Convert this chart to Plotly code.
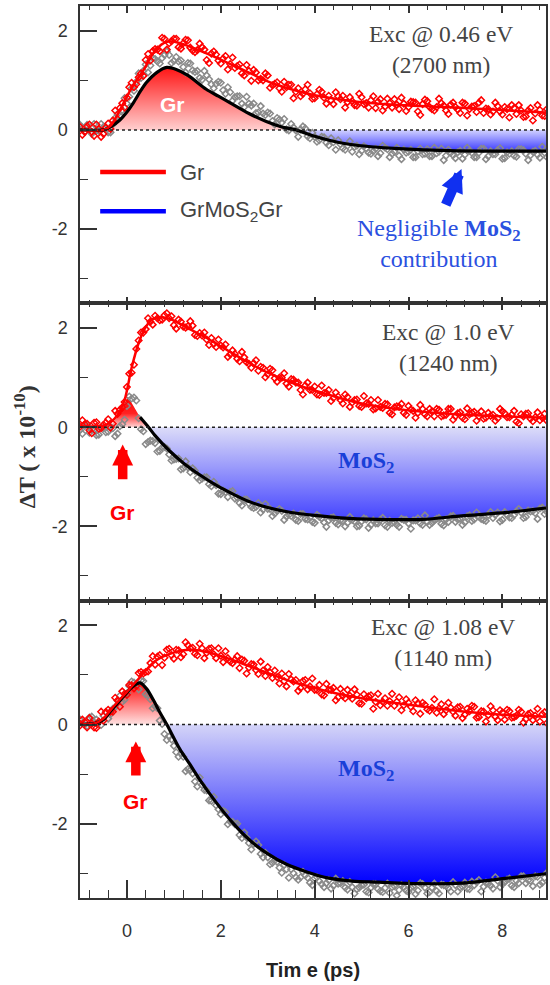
import plotly.graph_objects as go

# ---------------- data ----------------
T = [round(-1.0 + 0.1 * i, 2) for i in range(100)]      # time of first set of data points (ps)
T_MID = [round(-0.95 + 0.1 * i, 2) for i in range(100)]  # time of the interleaved second set (ps)

# Panel 1 : Exc @ 0.46 eV
R1_DATA = [0.06, -0.04, 0.11, -0.12, 0.02, -0.08, 0.13, 0.19, 0.22, 0.54,
           0.65, 0.95, 0.92, 1.14, 1.41, 1.40, 1.63, 1.59, 1.84, 1.75,
           1.84, 1.67, 1.75, 1.81, 1.60, 1.61, 1.67, 1.41, 1.54, 1.52,
           1.34, 1.49, 1.33, 1.25, 1.32, 1.10, 1.19, 1.21, 1.00, 1.00,
           1.10, 0.90, 0.96, 0.77, 0.86, 0.91, 0.77, 0.68, 0.82, 0.74,
           0.64, 0.81, 0.65, 0.69, 0.52, 0.68, 0.69, 0.56, 0.58, 0.49,
           0.66, 0.54, 0.60, 0.44, 0.62, 0.47, 0.54, 0.62, 0.42, 0.53,
           0.46, 0.56, 0.37, 0.52, 0.58, 0.42, 0.46, 0.54, 0.39, 0.51,
           0.46, 0.34, 0.53, 0.42, 0.48, 0.55, 0.34, 0.42, 0.37, 0.48,
           0.31, 0.42, 0.50, 0.32, 0.39, 0.27, 0.44, 0.33, 0.40, 0.28]
R1_DATA_MID = [-0.10, 0.07, -0.04, 0.11, -0.14, 0.05, 0.02, 0.39, 0.44, 0.45,
               0.86, 0.86, 1.06, 1.09, 1.53, 1.59, 1.62, 1.86, 1.62, 1.79,
               1.84, 1.64, 1.82, 1.66, 1.57, 1.74, 1.62, 1.35, 1.58, 1.40,
               1.44, 1.22, 1.46, 1.29, 1.14, 1.31, 0.99, 1.16, 1.03, 1.14,
               0.85, 0.93, 0.84, 0.97, 0.91, 0.64, 0.84, 0.73, 0.91, 0.63,
               0.72, 0.77, 0.53, 0.60, 0.76, 0.62, 0.45, 0.66, 0.50, 0.73,
               0.52, 0.45, 0.68, 0.57, 0.39, 0.63, 0.45, 0.51, 0.65, 0.38,
               0.57, 0.55, 0.30, 0.61, 0.46, 0.39, 0.63, 0.49, 0.32, 0.55,
               0.41, 0.55, 0.29, 0.47, 0.36, 0.60, 0.43, 0.31, 0.55, 0.37,
               0.46, 0.25, 0.44, 0.50, 0.26, 0.39, 0.19, 0.50, 0.29, 0.42]
G1_DATA = [0.10, -0.04, 0.00, 0.12, -0.02, 0.06, -0.05, 0.11, 0.32, 0.40,
           0.53, 0.84, 0.97, 1.05, 1.32, 1.30, 1.43, 1.34, 1.51, 1.51,
           1.39, 1.38, 1.27, 1.35, 1.20, 1.19, 1.01, 1.10, 0.92, 0.93,
           0.95, 0.73, 0.76, 0.66, 0.68, 0.46, 0.53, 0.53, 0.35, 0.33,
           0.35, 0.18, 0.24, 0.15, 0.01, 0.12, -0.01, 0.01, 0.03, -0.17,
           -0.14, -0.21, -0.15, -0.31, -0.25, -0.21, -0.37, -0.32, -0.44, -0.32,
           -0.42, -0.37, -0.48, -0.38, -0.47, -0.36, -0.55, -0.44, -0.52, -0.40,
           -0.44, -0.55, -0.43, -0.49, -0.39, -0.53, -0.47, -0.38, -0.52, -0.46,
           -0.57, -0.42, -0.50, -0.42, -0.55, -0.46, -0.38, -0.53, -0.49, -0.41,
           -0.58, -0.45, -0.43, -0.54, -0.39, -0.48, -0.51, -0.42, -0.56, -0.46]
G1_DATA_MID = [0.04, 0.10, -0.08, -0.01, 0.12, 0.04, -0.05, 0.24, 0.28, 0.64,
               0.67, 0.79, 1.14, 1.19, 1.16, 1.45, 1.38, 1.45, 1.58, 1.35,
               1.47, 1.40, 1.16, 1.34, 1.17, 1.05, 1.19, 1.02, 0.84, 0.97,
               0.80, 0.86, 0.59, 0.68, 0.53, 0.67, 0.49, 0.34, 0.48, 0.30,
               0.33, 0.11, 0.21, 0.22, -0.01, 0.05, -0.14, 0.07, -0.13, -0.06,
               -0.24, -0.14, -0.26, -0.17, -0.40, -0.29, -0.40, -0.23, -0.34, -0.49,
               -0.33, -0.46, -0.43, -0.53, -0.32, -0.39, -0.48, -0.36, -0.59, -0.46,
               -0.40, -0.55, -0.38, -0.48, -0.53, -0.36, -0.44, -0.61, -0.40, -0.51,
               -0.45, -0.58, -0.36, -0.46, -0.55, -0.38, -0.59, -0.43, -0.49, -0.37,
               -0.57, -0.48, -0.52, -0.39, -0.41, -0.61, -0.44, -0.50, -0.34, -0.55]
R1_FIT_X = [-1.0, -0.5, -0.35, -0.15, 0.1, 0.35, 0.6, 0.85, 1.1, 1.5, 2.0, 2.5,
            3.0, 3.5, 4.0, 4.5, 5.0, 6.0, 7.0, 8.0, 8.93]
R1_FIT_Y = [0.0, 0.0, 0.08, 0.4, 0.85, 1.2, 1.6, 1.78, 1.76, 1.62, 1.42, 1.2,
            0.98, 0.82, 0.7, 0.62, 0.56, 0.49, 0.45, 0.4, 0.35]
K1_X = [-1.0, -0.5, -0.35, -0.15, 0.0, 0.14, 0.3, 0.42, 0.64, 0.85, 1.05, 1.3,
        1.69, 1.95, 2.19, 2.6, 2.97, 3.3, 3.6, 4.0, 4.35, 4.73, 5.2, 5.79, 6.85, 8.0, 8.93]
K1_Y = [0.0, 0.0, 0.06, 0.2, 0.36, 0.55, 0.8, 0.96, 1.16, 1.26, 1.22, 1.1,
        0.82, 0.68, 0.55, 0.33, 0.17, 0.06, 0.0, -0.13, -0.22, -0.29, -0.34, -0.38, -0.42, -0.43, -0.43]

# Panel 2 : Exc @ 1.0 eV
R2_DATA = [0.01, 0.06, -0.06, 0.09, -0.03, 0.05, 0.16, 0.07, 0.27, 0.40,
           0.81, 1.10, 1.58, 1.91, 1.98, 2.13, 2.25, 2.16, 2.26, 2.20,
           2.06, 2.17, 2.03, 2.04, 2.05, 1.84, 1.85, 1.77, 1.80, 1.62,
           1.65, 1.67, 1.47, 1.48, 1.33, 1.41, 1.28, 1.29, 1.14, 1.20,
           1.07, 1.15, 0.92, 1.00, 0.88, 0.97, 0.90, 0.75, 0.84, 0.75,
           0.82, 0.65, 0.69, 0.75, 0.59, 0.62, 0.48, 0.61, 0.50, 0.56,
           0.41, 0.48, 0.55, 0.38, 0.41, 0.47, 0.29, 0.40, 0.41, 0.29,
           0.43, 0.33, 0.29, 0.37, 0.22, 0.32, 0.37, 0.22, 0.25, 0.37,
           0.22, 0.30, 0.16, 0.26, 0.31, 0.22, 0.17, 0.29, 0.25, 0.18,
           0.32, 0.20, 0.25, 0.11, 0.26, 0.27, 0.17, 0.20, 0.14, 0.27]
R2_DATA_MID = [0.14, 0.07, -0.12, 0.10, -0.02, 0.09, -0.01, 0.33, 0.35, 0.51,
               1.08, 1.26, 1.75, 1.91, 2.20, 2.07, 2.20, 2.17, 2.30, 2.24,
               1.99, 2.13, 2.01, 2.14, 1.86, 1.90, 1.91, 1.66, 1.68, 1.77,
               1.61, 1.42, 1.55, 1.38, 1.52, 1.31, 1.20, 1.35, 1.22, 1.01,
               1.18, 0.99, 1.00, 1.09, 0.82, 0.96, 0.90, 0.66, 0.90, 0.75,
               0.66, 0.84, 0.69, 0.53, 0.70, 0.55, 0.66, 0.41, 0.55, 0.43,
               0.63, 0.47, 0.36, 0.55, 0.39, 0.46, 0.26, 0.42, 0.47, 0.25,
               0.36, 0.19, 0.45, 0.26, 0.37, 0.22, 0.35, 0.24, 0.37, 0.15,
               0.28, 0.19, 0.38, 0.29, 0.13, 0.32, 0.19, 0.23, 0.13, 0.37,
               0.28, 0.20, 0.33, 0.08, 0.22, 0.28, 0.12, 0.30, 0.19, 0.13]
G2_DATA = [-0.06, 0.02, -0.11, -0.05, -0.15, -0.01, -0.09, -0.02, -0.13, 0.06,
           0.43, 0.58, 0.54, -0.04, -0.34, -0.27, -0.32, -0.48, -0.40, -0.55,
           -0.65, -0.63, -0.83, -0.81, -0.83, -1.02, -1.04, -1.01, -1.19, -1.17,
           -1.35, -1.31, -1.31, -1.44, -1.53, -1.46, -1.54, -1.63, -1.53, -1.66,
           -1.65, -1.79, -1.69, -1.69, -1.80, -1.79, -1.87, -1.75, -1.85, -1.82,
           -1.93, -1.81, -1.92, -1.88, -1.82, -1.96, -1.89, -1.93, -1.87, -2.00,
           -1.90, -1.86, -1.97, -1.94, -1.87, -1.98, -1.89, -1.92, -2.01, -1.87,
           -1.94, -1.88, -1.84, -1.97, -1.91, -1.93, -1.85, -1.95, -1.86, -1.80,
           -1.91, -1.85, -1.92, -1.78, -1.86, -1.80, -1.87, -1.77, -1.83, -1.72,
           -1.87, -1.77, -1.83, -1.70, -1.72, -1.81, -1.70, -1.73, -1.64, -1.75]
G2_DATA_MID = [-0.13, 0.05, -0.05, -0.16, 0.00, -0.10, 0.01, -0.18, 0.02, 0.15,
               0.62, 0.60, 0.18, -0.08, -0.30, -0.28, -0.49, -0.41, -0.43, -0.67,
               -0.64, -0.85, -0.69, -0.91, -0.88, -1.07, -1.01, -1.15, -1.10, -1.34,
               -1.28, -1.41, -1.29, -1.42, -1.58, -1.46, -1.61, -1.61, -1.72, -1.55,
               -1.65, -1.74, -1.65, -1.87, -1.77, -1.74, -1.89, -1.75, -1.86, -1.91,
               -1.77, -1.84, -2.01, -1.83, -1.93, -1.88, -2.00, -1.81, -1.90, -1.99,
               -1.84, -2.03, -1.88, -1.94, -1.83, -2.01, -1.93, -1.97, -1.85, -1.87,
               -2.05, -1.88, -1.94, -1.78, -1.97, -1.88, -1.83, -1.98, -1.91, -1.79,
               -1.86, -1.97, -1.80, -1.89, -1.72, -1.85, -1.89, -1.71, -1.77, -1.90,
               -1.71, -1.82, -1.77, -1.65, -1.83, -1.68, -1.69, -1.85, -1.62, -1.71]
R2_FIT_X = [-1.0, -0.5, -0.35, -0.2, -0.05, 0.1, 0.25, 0.4, 0.55, 0.75, 0.95, 1.3,
            1.7, 2.2, 2.6, 3.0, 3.5, 4.0, 4.5, 5.0, 6.0, 7.0, 8.0, 8.93]
R2_FIT_Y = [0.02, 0.03, 0.1, 0.25, 0.55, 1.2, 1.7, 2.02, 2.18, 2.22, 2.17, 2.0,
            1.8, 1.52, 1.3, 1.1, 0.9, 0.74, 0.6, 0.48, 0.34, 0.26, 0.22, 0.19]
K2_X = [-1.0, -0.42, -0.3, -0.15, 0.02, 0.15, 0.28, 0.46, 0.6, 0.9, 1.2, 1.55,
        1.9, 2.26, 2.6, 3.0, 3.5, 4.0, 4.55, 5.36, 6.3, 7.13, 8.1, 8.93]
K2_Y = [0.0, 0.0, 0.08, 0.3, 0.62, 0.4, 0.2, 0.0, -0.17, -0.47, -0.72, -0.96,
        -1.17, -1.35, -1.5, -1.62, -1.72, -1.78, -1.83, -1.86, -1.86, -1.79, -1.72, -1.63]
K2_LINE_START = 0.28   # the black fit line is only visible from here on

# Panel 3 : Exc @ 1.08 eV
R3_DATA = [-0.02, 0.05, 0.13, -0.06, 0.06, 0.08, 0.30, 0.26, 0.49, 0.67,
           0.60, 0.79, 0.78, 1.06, 1.06, 1.24, 1.21, 1.40, 1.35, 1.53,
           1.33, 1.50, 1.42, 1.60, 1.55, 1.40, 1.54, 1.45, 1.54, 1.34,
           1.39, 1.48, 1.27, 1.31, 1.14, 1.29, 1.15, 1.21, 1.02, 1.09,
           1.16, 0.94, 0.96, 1.03, 0.77, 0.91, 0.90, 0.74, 0.90, 0.77,
           0.70, 0.80, 0.59, 0.70, 0.74, 0.55, 0.58, 0.70, 0.52, 0.60,
           0.42, 0.53, 0.59, 0.46, 0.39, 0.53, 0.47, 0.38, 0.55, 0.39,
           0.44, 0.27, 0.43, 0.44, 0.31, 0.34, 0.24, 0.41, 0.29, 0.34,
           0.18, 0.36, 0.20, 0.27, 0.36, 0.15, 0.26, 0.19, 0.29, 0.09,
           0.24, 0.30, 0.14, 0.18, 0.26, 0.11, 0.23, 0.18, 0.06, 0.25]
R3_DATA_MID = [0.10, -0.06, 0.02, -0.07, 0.26, 0.25, 0.26, 0.54, 0.36, 0.62,
               0.80, 0.73, 1.04, 1.03, 1.07, 1.38, 1.37, 1.20, 1.51, 1.40,
               1.51, 1.36, 1.66, 1.54, 1.43, 1.63, 1.34, 1.53, 1.42, 1.54,
               1.26, 1.34, 1.24, 1.38, 1.31, 1.03, 1.22, 1.10, 1.27, 0.98,
               1.05, 1.09, 0.83, 0.88, 1.02, 0.87, 0.68, 0.88, 0.71, 0.93,
               0.70, 0.61, 0.82, 0.70, 0.49, 0.72, 0.53, 0.58, 0.71, 0.43,
               0.61, 0.57, 0.32, 0.62, 0.46, 0.38, 0.62, 0.46, 0.29, 0.51,
               0.36, 0.49, 0.22, 0.40, 0.28, 0.51, 0.33, 0.21, 0.44, 0.26,
               0.35, 0.13, 0.32, 0.38, 0.14, 0.27, 0.06, 0.37, 0.16, 0.29,
               0.10, 0.27, 0.15, 0.30, 0.04, 0.21, 0.09, 0.32, 0.21, 0.03]
G3_DATA = [0.10, -0.01, 0.14, 0.05, 0.05, 0.18, 0.12, 0.32, 0.48, 0.46,
           0.63, 0.87, 0.81, 0.89, 0.61, 0.51, 0.37, 0.08, -0.19, -0.24,
           -0.43, -0.65, -0.65, -0.90, -0.99, -1.25, -1.22, -1.33, -1.54, -1.63,
           -1.81, -1.77, -1.96, -2.01, -2.23, -2.18, -2.39, -2.41, -2.43, -2.68,
           -2.68, -2.79, -2.77, -2.99, -2.92, -2.92, -3.08, -3.08, -3.04, -3.19,
           -3.10, -3.16, -3.28, -3.14, -3.25, -3.21, -3.16, -3.33, -3.28, -3.32,
           -3.24, -3.37, -3.29, -3.22, -3.36, -3.30, -3.40, -3.26, -3.34, -3.28,
           -3.38, -3.27, -3.35, -3.22, -3.41, -3.29, -3.36, -3.23, -3.26, -3.37,
           -3.24, -3.29, -3.19, -3.32, -3.24, -3.14, -3.27, -3.21, -3.31, -3.15,
           -3.22, -3.13, -3.25, -3.15, -3.06, -3.20, -3.15, -3.06, -3.23, -3.09]
G3_DATA_MID = [0.03, -0.03, 0.16, 0.10, -0.01, 0.25, 0.21, 0.35, 0.58, 0.50,
               0.78, 0.85, 0.71, 0.88, 0.59, 0.33, 0.33, 0.01, -0.31, -0.30,
               -0.56, -0.59, -0.94, -0.92, -1.15, -1.07, -1.32, -1.53, -1.46, -1.71,
               -1.74, -2.01, -1.96, -2.00, -2.29, -2.28, -2.52, -2.36, -2.61, -2.59,
               -2.82, -2.74, -2.89, -2.83, -3.09, -3.00, -3.13, -2.97, -3.09, -3.24,
               -3.08, -3.22, -3.20, -3.31, -3.11, -3.20, -3.29, -3.18, -3.41, -3.29,
               -3.23, -3.39, -3.22, -3.32, -3.38, -3.21, -3.28, -3.45, -3.24, -3.35,
               -3.29, -3.42, -3.20, -3.29, -3.38, -3.21, -3.41, -3.24, -3.30, -3.18,
               -3.37, -3.27, -3.31, -3.17, -3.18, -3.37, -3.19, -3.25, -3.08, -3.28,
               -3.18, -3.11, -3.28, -3.20, -3.06, -3.14, -3.26, -3.07, -3.19, -2.99]
R3_FIT_X = [-1.0, -0.7, -0.5, -0.3, 0.0, 0.3, 0.6, 0.9, 1.2, 1.5, 1.8, 2.2,
            2.6, 3.0, 3.5, 4.0, 4.5, 5.0, 6.0, 7.0, 8.0, 8.93]
R3_FIT_Y = [0.0, 0.02, 0.12, 0.35, 0.66, 0.98, 1.28, 1.42, 1.5, 1.5, 1.44, 1.32,
            1.18, 1.04, 0.87, 0.74, 0.62, 0.53, 0.4, 0.28, 0.2, 0.16]
K3_X = [-1.0, -0.7, -0.5, -0.35, -0.07, 0.1, 0.28, 0.42, 0.56, 0.7, 0.85, 1.13,
        1.34, 1.55, 1.9, 2.26, 2.6, 2.97, 3.4, 3.85, 4.3, 4.8, 5.36, 6.2, 7.13, 8.1, 8.93]
K3_Y = [0.0, 0.02, 0.1, 0.27, 0.57, 0.75, 0.84, 0.72, 0.5, 0.25, 0.0, -0.5,
        -0.8, -1.11, -1.57, -1.99, -2.32, -2.59, -2.82, -2.98, -3.1, -3.16, -3.18, -3.21, -3.2, -3.1, -3.01]

X_RANGE = [-1.0, 8.93]
Y_RANGE = [-3.5, 2.5]
Y_TICKS = [-2, 0, 2]
Y_TICK_LABELS = ["-2", "0", "2"]
EXC_LABELS = ["Exc @ 0.46 eV<br>(2700 nm)", "Exc @ 1.0 eV<br>(1240 nm)", "Exc @ 1.08 eV<br>(1140 nm)"]
X_TITLE = "Tim e (ps)"
Y_TITLE = "ΔT ( x 10<sup>-10</sup>)"

# ---------------- styling ----------------
SERIF = "Liberation Serif"
SANS = "Liberation Sans"
AX = "#333333"
RED = "#ff0000"
BLUE = "#0000ff"

panels = [
    dict(R=R1_DATA, RM=R1_DATA_MID, G=G1_DATA, GM=G1_DATA_MID, RX=R1_FIT_X, RY=R1_FIT_Y,
         KX=K1_X, KY=K1_Y, kstart=-1.0,
         red=[[0, "#ffcfcf"], [1, "#ff1414"]],
         blue=[[0, "#3c3cff"], [1, "#d2d2ff"]], pos_shape="spline"),
    dict(R=R2_DATA, RM=R2_DATA_MID, G=G2_DATA, GM=G2_DATA_MID, RX=R2_FIT_X, RY=R2_FIT_Y,
         KX=K2_X, KY=K2_Y, kstart=K2_LINE_START,
         red=[[0, "#ffd6d6"], [0.45, "#ff2222"], [1, "#ff0000"]],
         blue=[[0, "#4444ff"], [1, "#dcdcf8"]], pos_shape="linear"),
    dict(R=R3_DATA, RM=R3_DATA_MID, G=G3_DATA, GM=G3_DATA_MID, RX=R3_FIT_X, RY=R3_FIT_Y,
         KX=K3_X, KY=K3_Y, kstart=-1.0,
         red=[[0, "#ffe2e2"], [1, "#ff1010"]],
         blue=[[0, "#0000ff"], [1, "#d4d4f8"]], pos_shape="spline"),
]

fig = go.Figure()
for i, p in enumerate(panels, start=1):
    xa = "x" if i == 1 else f"x{i}"
    ya = "y" if i == 1 else f"y{i}"
    pos = [max(v, 0.0) for v in p["KY"]]
    neg = [min(v, 0.0) for v in p["KY"]]
    fig.add_trace(go.Scatter(x=p["KX"], y=pos, xaxis=xa, yaxis=ya, mode="lines",
                             line=dict(width=0, shape=p["pos_shape"], smoothing=0.8),
                             fill="tozeroy",
                             fillgradient=dict(type="vertical", start=0, stop=max(pos),
                                               colorscale=p["red"]),
                             hoverinfo="skip"))
    fig.add_trace(go.Scatter(x=p["KX"], y=neg, xaxis=xa, yaxis=ya, mode="lines",
                             line=dict(width=0, shape="spline", smoothing=0.8),
                             fill="tozeroy",
                             fillgradient=dict(type="vertical", start=min(neg), stop=0,
                                               colorscale=p["blue"]),
                             hoverinfo="skip"))
    for tx, vals in ((T, p["G"]), (T_MID, p["GM"])):
        fig.add_trace(go.Scatter(x=tx, y=vals, xaxis=xa, yaxis=ya, mode="markers",
                                 marker=dict(symbol="diamond-open", size=5, color="#8a8a8a",
                                             line=dict(width=1.5))))
    for tx, vals in ((T, p["R"]), (T_MID, p["RM"])):
        fig.add_trace(go.Scatter(x=tx, y=vals, xaxis=xa, yaxis=ya, mode="markers",
                                 marker=dict(symbol="diamond-open", size=5, color=RED,
                                             line=dict(width=1.5))))
    kx = [x for x in p["KX"] if x >= p["kstart"]]
    ky = [y for x, y in zip(p["KX"], p["KY"]) if x >= p["kstart"]]
    fig.add_trace(go.Scatter(x=kx, y=ky, xaxis=xa, yaxis=ya, mode="lines",
                             line=dict(color="black", width=3.2, shape="spline", smoothing=0.8)))
    fig.add_trace(go.Scatter(x=p["RX"], y=p["RY"], xaxis=xa, yaxis=ya, mode="lines",
                             line=dict(color=RED, width=2.5, shape="spline", smoothing=0.8)))

# helper trace so the top tick axis of the lowest panel is drawn
fig.add_trace(go.Scatter(x=K3_X, y=K3_Y, xaxis="x4", yaxis="y3", mode="lines",
                         line=dict(width=0), hoverinfo="skip"))

xcommon = dict(range=X_RANGE, tickmode="linear", tick0=0, dtick=2, showline=True,
               linecolor=AX, linewidth=1.5, showgrid=False, zeroline=False,
               ticks="inside", tickcolor=AX, tickwidth=1.5)
minor_x_short = dict(tickmode="linear", tick0=0, dtick=0.4, ticklen=4, ticks="inside",
                     tickcolor=AX, tickwidth=1.2)
ycommon = dict(range=Y_RANGE, tickmode="array", tickvals=Y_TICKS, ticktext=Y_TICK_LABELS,
               showline=True, mirror=True, linecolor=AX, linewidth=1.5, showgrid=False,
               zeroline=False, ticks="inside", ticklen=17, tickcolor=AX, tickwidth=1.5,
               tickfont=dict(family=SANS, size=18, color=AX), ticklabelstandoff=7,
               minor=dict(tickmode="linear", tick0=1, dtick=2, ticklen=8, ticks="inside",
                          tickcolor=AX, tickwidth=1.2))

fig.update_layout(
    width=550, height=985, margin=dict(l=80, r=2, t=6, b=87),
    plot_bgcolor="white", paper_bgcolor="white", showlegend=False,
    xaxis=dict(xcommon, anchor="y", mirror="ticks", ticklen=7, showticklabels=False,
               minor=minor_x_short),
    xaxis2=dict(xcommon, anchor="y2", mirror="ticks", ticklen=7, showticklabels=False,
                minor=minor_x_short),
    xaxis3=dict(xcommon, anchor="y3", mirror=True, ticklen=18, showticklabels=True,
                tickfont=dict(family=SANS, size=18, color=AX), ticklabelstandoff=16,
                minor=dict(tickmode="linear", tick0=0, dtick=0.4, ticklen=8, ticks="inside",
                           tickcolor=AX, tickwidth=1.2)),
    xaxis4=dict(range=X_RANGE, overlaying="x3", anchor="y3", side="top", showline=False,
                showgrid=False, zeroline=False, tickmode="linear", tick0=0, dtick=2,
                ticks="inside", ticklen=7, tickcolor=AX, tickwidth=1.5, showticklabels=False,
                minor=minor_x_short),
    yaxis=dict(ycommon, anchor="x", domain=[2 / 3, 1]),
    yaxis2=dict(ycommon, anchor="x2", domain=[1 / 3, 2 / 3]),
    yaxis3=dict(ycommon, anchor="x3", domain=[0, 1 / 3]),
)

# dotted zero lines
for i in (1, 2, 3):
    xa = "x" if i == 1 else f"x{i}"
    ya = "y" if i == 1 else f"y{i}"
    fig.add_shape(type="line", xref=f"{xa} domain", yref=ya, x0=0, x1=1, y0=0, y1=0,
                  line=dict(color="#222222", width=1.5, dash="dot"))

# legend (drawn by hand inside panel 1)
for yv, col in ((-0.85, RED), (-1.64, BLUE)):
    fig.add_shape(type="line", xref="x", yref="y", x0=-0.57, x1=0.83, y0=yv, y1=yv,
                  line=dict(color=col, width=4.5))

ann = []
ann.append(dict(x=1.09, y=-0.85, xref="x", yref="y", text="Gr", xanchor="left",
                font=dict(family=SANS, size=22, color="#444444")))
ann.append(dict(x=1.09, y=-1.64, xref="x", yref="y", text="GrMoS<sub>2</sub>Gr", xanchor="left",
                font=dict(family=SANS, size=22, color="#444444")))
# excitation labels
for i, (txt, xx, yy) in enumerate(zip(EXC_LABELS, (6.7, 6.85, 6.74), (1.63, 1.6, 1.66)), start=1):
    xa = "x" if i == 1 else f"x{i}"
    ya = "y" if i == 1 else f"y{i}"
    ann.append(dict(x=xx, y=yy, xref=xa, yref=ya, text=txt, align="center",
                    font=dict(family=SERIF, size=23.5, color="#444444")))
# Gr label in the fill
ann.append(dict(x=0.98, y=0.52, xref="x", yref="y", text="<b>Gr</b>",
                font=dict(family=SANS, size=21, color="white")))
# negligible MoS2
ann.append(dict(x=6.65, y=-2.29, xref="x", yref="y",
                text="Negligible <b>MoS<sub>2</sub></b><br>contribution", align="center",
                font=dict(family=SERIF, size=24, color="#2b50e0")))
ann.append(dict(x=7.13, y=-0.79, ax=6.78, ay=-1.54, xref="x", yref="y", axref="x", ayref="y",
                text="", showarrow=True, arrowhead=2, arrowsize=0.46, arrowwidth=10,
                arrowcolor="#1030f0"))
# MoS2 labels
for i, yy in ((2, -0.71), (3, -0.91)):
    ann.append(dict(x=5.1, y=yy, xref=f"x{i}", yref=f"y{i}", text="<b>MoS<sub>2</sub></b>",
                    font=dict(family=SERIF, size=24, color="#1a40d8")))
# red Gr arrows
for i, xx, ytip, ytail, ylab in ((2, -0.09, -0.35, -1.08, -1.72), (3, 0.19, -0.34, -1.06, -1.56)):
    ann.append(dict(x=xx, y=ytip, ax=xx, ay=ytail, xref=f"x{i}", yref=f"y{i}",
                    axref=f"x{i}", ayref=f"y{i}", text="", showarrow=True, arrowhead=2,
                    arrowsize=0.44, arrowwidth=9.5, arrowcolor=RED))
    ann.append(dict(x=xx, y=ylab, xref=f"x{i}", yref=f"y{i}", text="<b>Gr</b>",
                    font=dict(family=SANS, size=21, color=RED)))
# axis titles
ann.append(dict(x=0.5, y=-0.0807, xref="paper", yref="paper", text=f"<b>{X_TITLE}</b>",
                xanchor="center", yanchor="middle",
                font=dict(family=SANS, size=20, color="#222222")))
ann.append(dict(x=-0.1175, y=0.5056, xref="paper", yref="paper", text=f"<b>{Y_TITLE}</b>",
                xanchor="center", yanchor="middle", textangle=-90,
                font=dict(family=SERIF, size=24, color="#333333")))
for a in ann:
    a.setdefault("showarrow", False)
fig.update_layout(annotations=ann)

fig.write_html("out.html")
